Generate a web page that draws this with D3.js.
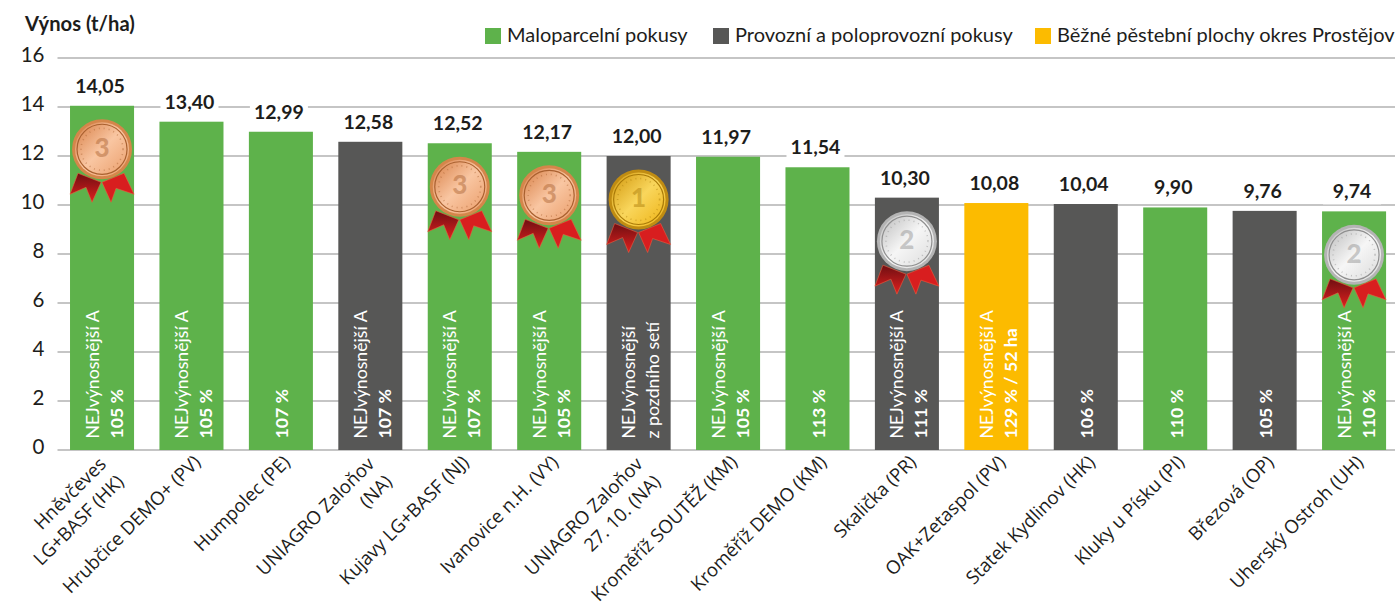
<!DOCTYPE html>
<html lang="cs"><head><meta charset="utf-8">
<script src="https://cdn.jsdelivr.net/npm/d3@7"></script>
<style>html,body{margin:0;padding:0;background:#fff}svg{display:block}text{font-family:Lato,"Open Sans",sans-serif}</style>
</head><body><svg id="c" width="1395" height="606"></svg>
<script>
const categories=[["Hněvčeves","LG+BASF (HK)"],["Hrubčice DEMO+ (PV)"],["Humpolec (PE)"],["UNIAGRO Zaloňov","(NA)"],["Kujavy LG+BASF (NJ)"],["Ivanovice n.H. (VY)"],["UNIAGRO Zaloňov","27. 10. (NA)"],["Kroměříž SOUTĚŽ (KM)"],["Kroměříž DEMO (KM)"],["Skalička (PR)"],["OAK+Zetaspol (PV)"],["Statek Kydlinov (HK)"],["Kluky u Písku (PI)"],["Březová (OP)"],["Uherský Ostroh (UH)"]];
const values=[14.05,13.40,12.99,12.58,12.52,12.17,12.00,11.97,11.54,10.30,10.08,10.04,9.90,9.76,9.74];
const groups=[0,0,0,1,0,0,1,0,0,1,2,1,0,1,0];
const groupNames=["Maloparcelní pokusy","Provozní a poloprovozní pokusy","Běžné pěstební plochy okres Prostějov"];
const colors=["#5eb24b","#575756","#fcbb00"];
const note1=["NEJvýnosnější A","NEJvýnosnější A","","NEJvýnosnější A","NEJvýnosnější A","NEJvýnosnější A","NEJvýnosnější","NEJvýnosnější A","","NEJvýnosnější A","NEJvýnosnější A","","","","NEJvýnosnější A"];
const note2=["105 %","105 %","107 %","107 %","107 %","105 %","z pozdního setí","105 %","113 %","111 %","129 % / 52 ha","106 %","110 %","105 %","110 %"];
const medals=[3,0,0,0,3,3,1,0,0,2,0,0,0,0,2];
const yTicks=[0,2,4,6,8,10,12,14,16];
const svg=d3.select("#c");
const x=d3.scaleBand().domain(d3.range(categories.length)).range([57.5,1398.6]).paddingInner(0.284).paddingOuter(0.14);
const y=d3.scaleLinear().domain([0,16]).range([450,58]);
const fmt=v=>v.toFixed(2).replace(".",",");
const ink="#1d1d1b";
const defs=svg.append("defs");
const medalCols={1:["#f9d65c","#d39a10","#eeb417","#a97a08","#c08c12"],2:["#f6f6f6","#bdbdbd","#dcdcdc","#8f8f8f","#b4b4b4"],3:["#f9c6a2","#d9824a","#eb9f6c","#a9602f","#d4864a"]};
Object.entries(medalCols).forEach(([k,c])=>{
 const g=defs.append("linearGradient").attr("id","m"+k).attr("x1",0).attr("y1",0).attr("x2",1).attr("y2",1);
 g.append("stop").attr("offset","0").attr("stop-color",c[1]);g.append("stop").attr("offset",".5").attr("stop-color",c[0]);g.append("stop").attr("offset","1").attr("stop-color",c[2]);
});
const rg=defs.append("linearGradient").attr("id","rib").attr("x1",0).attr("y1",0).attr("x2",0).attr("y2",1);
rg.append("stop").attr("offset","0").attr("stop-color","#6f0f12");rg.append("stop").attr("offset","1").attr("stop-color","#e0201f");
svg.append("g").selectAll("line").data(yTicks).join("line").attr("x1",57.5).attr("x2",1395).attr("y1",d=>y(d)).attr("y2",d=>y(d)).attr("stroke","#b2b2b2").attr("stroke-width",1.6);
svg.append("g").selectAll("text").data(yTicks).join("text").attr("x",44.5).attr("y",d=>y(d)-1.5).attr("text-anchor","end").attr("dominant-baseline","middle").attr("font-size",20.5).attr("fill",ink).text(d=>d);
svg.append("text").attr("x",25).attr("y",31).attr("font-size",20.2).attr("font-weight",700).attr("fill",ink).text("Výnos (t/ha)");
svg.append("g").selectAll("rect").data(values).join("rect").attr("x",(d,i)=>x(i)).attr("width",x.bandwidth()).attr("y",d=>y(d)).attr("height",d=>y(0)-y(d)).attr("fill",(d,i)=>colors[groups[i]]);
const vl=svg.append("g").selectAll("g").data(values).join("g").attr("transform",(d,i)=>`translate(${x(i)+x.bandwidth()/2-2},${y(d)-19})`);
vl.append("rect").attr("x",-29).attr("y",-12).attr("width",58).attr("height",24).attr("fill","#fff");
vl.append("text").attr("text-anchor","middle").attr("dominant-baseline","middle").attr("y",1).attr("font-size",19.5).attr("font-weight",700).attr("fill",ink).text(d=>fmt(d));
const cx=i=>x(i)+x.bandwidth()/2;
const notes=svg.append("g").selectAll("g").data(values).join("g").attr("transform",(d,i)=>`translate(${cx(i)},438.5) rotate(-90)`);
notes.append("text").attr("y",-3.5).attr("font-size",17.7).attr("fill","#fff").text((d,i)=>note1[i]);
notes.append("text").attr("y",(d,i)=>note1[i]?20.5:7.5).attr("font-size",17.7).attr("fill","#fff").attr("font-weight",(d,i)=>i===6?400:700).text((d,i)=>note2[i]);
const cats=svg.append("g").selectAll("text").data(categories).join("text").attr("transform",(d,i)=>`translate(${cx(i)+(d.length>1?1:6)},${d.length>1?461:459}) rotate(-45)`).attr("text-anchor","end").attr("font-size",18.6).style("font-family",'"Open Sans",sans-serif').attr("fill",ink);
cats.selectAll("tspan").data(d=>d).join("tspan").attr("x",0).attr("dy",(d,i)=>i?25:6).text(d=>d);
const mg=svg.append("g").selectAll("g").data(values.map((v,i)=>({v,i,m:medals[i]})).filter(d=>d.m)).join("g").attr("transform",d=>`translate(${cx(d.i)},${y(d.v)+43.5})`);
mg.append("path").attr("d","M-24 24L-32 45L-16 38L-10 53L-1 33Z").attr("fill","url(#rib)").attr("stroke","#ef5a3c").attr("stroke-width",.6);
mg.append("path").attr("d","M22 24L32 45L14 39L9 53L0 33Z").attr("fill","#d81e1f").attr("stroke","#ef5a3c").attr("stroke-width",.6);
mg.append("circle").attr("r",30).attr("fill",d=>medalCols[d.m][4]);
mg.append("circle").attr("r",27).attr("fill",d=>`url(#m${d.m})`);
mg.append("circle").attr("r",25).attr("fill",d=>`url(#m${d.m})`).attr("stroke",d=>medalCols[d.m][3]).attr("stroke-width",1.2);
mg.append("circle").attr("r",21).attr("fill","none").attr("stroke",d=>medalCols[d.m][3]).attr("stroke-width",1.6).attr("stroke-dasharray","1 4").attr("opacity",.45);
mg.append("text").attr("text-anchor","middle").attr("dominant-baseline","middle").attr("y",1).attr("font-size",26).attr("font-weight",900).attr("fill",d=>medalCols[d.m][3]).attr("opacity",.45).text(d=>d.m);
const lx=[485,713,1035];
const lg=svg.append("g").selectAll("g").data(groupNames).join("g").attr("transform",(d,i)=>`translate(${lx[i]},28)`);
lg.append("rect").attr("width",16).attr("height",16).attr("fill",(d,i)=>colors[i]);
lg.append("text").attr("x",22).attr("y",8.5).attr("dominant-baseline","middle").attr("font-size",20).attr("fill",ink).text(d=>d);
</script></body></html>
